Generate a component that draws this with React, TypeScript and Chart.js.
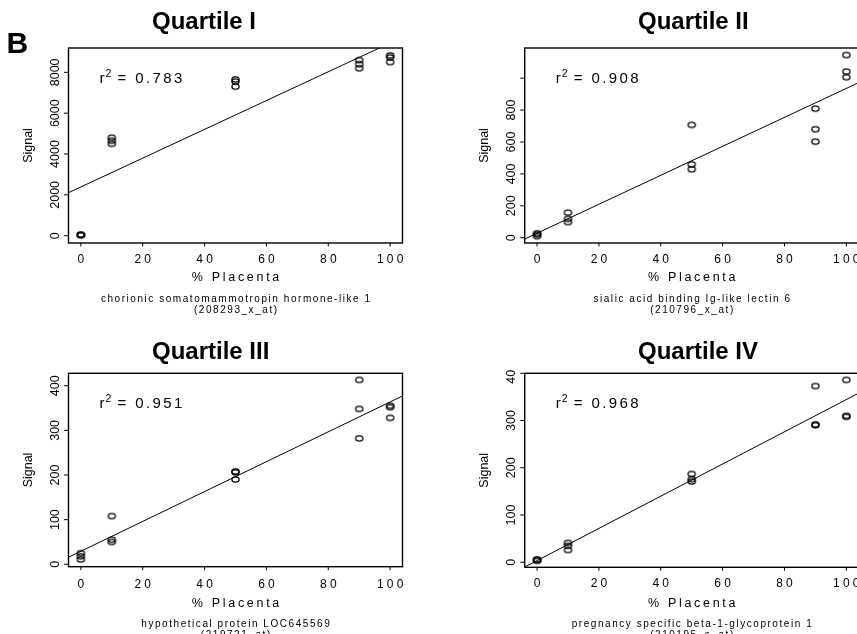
import React, { useEffect, useRef } from 'react';
import Chart from 'chart.js/auto';

const FONT = '"Liberation Sans", Arial, Helvetica, sans-serif';

// ---- data ----
const placentaPct = [0, 0, 0, 10, 10, 10, 50, 50, 50, 90, 90, 90, 100, 100, 100];
const xTicks = [0, 20, 40, 60, 80, 100];
const xTickLabels = ['0', '20', '40', '60', '80', '100'];
const xRange = [-4, 104];
const fitX = [-4, 104];

const q1Signal = [30, 50, 40, 4500, 4650, 4800, 7300, 7550, 7650, 8200, 8400, 8600, 8500, 8730, 8830];
const q1Fit = [2106, 9720];
const q1YTicks = [0, 2000, 4000, 6000, 8000];
const q1YLabels = ['0', '2000', '4000', '6000', '8000'];
const q1YRange = [-357, 9192];

const q2Signal = [10, 20, 28, 98, 118, 157, 429, 460, 707, 602, 680, 809, 1006, 1041, 1145];
const q2Fit = [-8, 972];
const q2YTicks = [0, 200, 400, 600, 800, 1000];
const q2YLabels = ['0', '200', '400', '600', '800', ''];
const q2YRange = [-33, 1189];

const q3Signal = [11, 18, 25, 50, 55, 108, 190, 206, 208, 282, 348, 413, 328, 352, 355];
const q3Fit = [15.8, 377];
const q3YTicks = [0, 100, 200, 300, 400];
const q3YLabels = ['0', '100', '200', '300', '400'];
const q3YRange = [-5.4, 427.8];

const q4Signal = [3, 5, 6, 26, 35, 41, 171, 176, 187, 290, 292, 373, 308, 310, 386];
const q4Fit = [-10, 358];
const q4YTicks = [0, 100, 200, 300, 400];
const q4YLabels = ['0', '100', '200', '300', '400'];
const q4YRange = [-10.6, 400];

const titles = ['Quartile I', 'Quartile II', 'Quartile III', 'Quartile IV'];
const r2Values = ['0.783', '0.908', '0.951', '0.968'];
const geneNames = [
  'chorionic somatomammotropin hormone-like 1',
  'sialic acid binding Ig-like lectin 6',
  'hypothetical protein LOC645569',
  'pregnancy specific beta-1-glycoprotein 1',
];
const probeIds = ['(208293_x_at)', '(210796_x_at)', '(219721_at)', '(210195_s_at)'];
const xAxisTitle = '% Placenta';
const yAxisTitle = 'Signal';
const panelLetter = 'B';

// ---- layout (page coordinates) ----
type Frame = {
  left: number; top: number; width: number; height: number;
  boxL: number; boxT: number; boxR: number; boxB: number;
  titleX: number; titleY: number; xTickY: number; xTitleY: number; cap1: number; cap2: number;
  labelClipTop?: number;
};

const frames: Frame[] = [
  { left: 0, top: 0, width: 428, height: 320, boxL: 68.5, boxT: 48, boxR: 402.5, boxB: 243,
    titleX: 152, titleY: 29.3, xTickY: 263.3, xTitleY: 281, cap1: 301.7, cap2: 312.7 },
  { left: 428, top: 0, width: 440, height: 320, boxL: 524.7, boxT: 48, boxR: 858.7, boxB: 243,
    titleX: 638, titleY: 29.3, xTickY: 263.3, xTitleY: 281, cap1: 301.7, cap2: 312.7 },
  { left: 0, top: 320, width: 428, height: 320, boxL: 68.5, boxT: 373.3, boxR: 402.5, boxB: 566.7,
    titleX: 152, titleY: 359.3, xTickY: 588.3, xTitleY: 606.5, cap1: 627.3, cap2: 638.3 },
  { left: 428, top: 320, width: 440, height: 320, boxL: 524.7, boxT: 373.3, boxR: 858.7, boxB: 567.3,
    titleX: 638, titleY: 359.3, xTickY: 587.3, xTitleY: 606.5, cap1: 627.3, cap2: 638.3, labelClipTop: 369.5 },
];

type Panel = {
  title: string; r2: string; gene: string; probe: string;
  signal: number[]; fit: number[]; yTicks: number[]; yLabels: string[]; yRange: number[];
  frame: Frame; showLetter: boolean;
};

const panels: Panel[] = [
  { title: titles[0], r2: r2Values[0], gene: geneNames[0], probe: probeIds[0], signal: q1Signal, fit: q1Fit,
    yTicks: q1YTicks, yLabels: q1YLabels, yRange: q1YRange, frame: frames[0], showLetter: true },
  { title: titles[1], r2: r2Values[1], gene: geneNames[1], probe: probeIds[1], signal: q2Signal, fit: q2Fit,
    yTicks: q2YTicks, yLabels: q2YLabels, yRange: q2YRange, frame: frames[1], showLetter: false },
  { title: titles[2], r2: r2Values[2], gene: geneNames[2], probe: probeIds[2], signal: q3Signal, fit: q3Fit,
    yTicks: q3YTicks, yLabels: q3YLabels, yRange: q3YRange, frame: frames[2], showLetter: false },
  { title: titles[3], r2: r2Values[3], gene: geneNames[3], probe: probeIds[3], signal: q4Signal, fit: q4Fit,
    yTicks: q4YTicks, yLabels: q4YLabels, yRange: q4YRange, frame: frames[3], showLetter: false },
];

function makeMarker(): HTMLCanvasElement {
  const c = document.createElement('canvas');
  c.width = 11;
  c.height = 9;
  const g = c.getContext('2d')!;
  g.strokeStyle = '#000';
  g.lineWidth = 1.25;
  g.beginPath();
  g.ellipse(5.5, 4.5, 3.6, 2.6, 0, 0, Math.PI * 2);
  g.stroke();
  return c;
}

function drawText(
  ctx: CanvasRenderingContext2D, s: string, x: number, y: number, font: string,
  align: CanvasTextAlign, spacing = 0,
) {
  ctx.font = font;
  (ctx as any).letterSpacing = spacing + 'px';
  ctx.textAlign = align;
  ctx.textBaseline = 'alphabetic';
  const dx = align === 'center' ? spacing / 2 : 0;
  ctx.fillText(s, x + dx, y);
  (ctx as any).letterSpacing = '0px';
}

function PanelChart({ p }: { p: Panel }) {
  const ref = useRef<HTMLCanvasElement>(null);
  const f = p.frame;
  useEffect(() => {
    const canvas = ref.current!;
    const ox = f.left;
    const oy = f.top;
    const marker = makeMarker();
    const decor = {
      id: 'decor',
      afterDraw(chart: any) {
        const ctx: CanvasRenderingContext2D = chart.ctx;
        const xs = chart.scales.x;
        const ys = chart.scales.y;
        const a = chart.chartArea;
        ctx.save();
        ctx.fillStyle = '#000';
        ctx.strokeStyle = '#000';
        // frame
        ctx.lineWidth = 1.4;
        ctx.strokeRect(a.left, a.top, a.right - a.left, a.bottom - a.top);
        // y ticks
        ctx.lineWidth = 1;
        p.yTicks.forEach((v) => {
          const y = ys.getPixelForValue(v);
          ctx.beginPath();
          ctx.moveTo(a.left, y);
          ctx.lineTo(a.left - 4.5, y);
          ctx.stroke();
        });
        // x ticks
        xTicks.forEach((v) => {
          const x = xs.getPixelForValue(v);
          ctx.beginPath();
          ctx.moveTo(x, a.bottom);
          ctx.lineTo(x, a.bottom + 3.5);
          ctx.stroke();
        });
        // y tick labels (rotated)
        ctx.save();
        if (f.labelClipTop !== undefined) {
          ctx.beginPath();
          ctx.rect(0, f.labelClipTop - oy, a.left, 2000);
          ctx.clip();
        }
        p.yTicks.forEach((v, i) => {
          const y = ys.getPixelForValue(v);
          ctx.save();
          ctx.translate(a.left - 10, y);
          ctx.rotate(-Math.PI / 2);
          drawText(ctx, p.yLabels[i], 0, 0, `12.5px ${FONT}`, 'center');
          ctx.restore();
        });
        ctx.restore();
        // y axis title
        ctx.save();
        ctx.translate(a.left - 36.5, (a.top + a.bottom) / 2);
        ctx.rotate(-Math.PI / 2);
        drawText(ctx, yAxisTitle, 0, 0, `12.5px ${FONT}`, 'center');
        ctx.restore();
        // x tick labels
        xTicks.forEach((v, i) => {
          const x = xs.getPixelForValue(v);
          drawText(ctx, xTickLabels[i], x, f.xTickY - oy, `12px ${FONT}`, 'center', 3.2);
        });
        const cx = (a.left + a.right) / 2;
        drawText(ctx, xAxisTitle, cx, f.xTitleY - oy, `12.5px ${FONT}`, 'center', 2.7);
        // caption
        drawText(ctx, p.gene, cx, f.cap1 - oy, `10px ${FONT}`, 'center', 1.55);
        drawText(ctx, p.probe, cx, f.cap2 - oy, `10px ${FONT}`, 'center', 1.55);
        // title
        drawText(ctx, p.title, f.titleX - ox, f.titleY - oy, `bold 24px ${FONT}`, 'left');
        // r^2
        const rx = a.left + 31;
        const ry = a.top + 35;
        drawText(ctx, 'r', rx, ry, `15px ${FONT}`, 'left');
        drawText(ctx, '2', rx + 6, ry - 6.5, `10.5px ${FONT}`, 'left');
        drawText(ctx, '= ' + p.r2, rx + 18, ry, `15px ${FONT}`, 'left', 2.4);
        if (p.showLetter) {
          drawText(ctx, panelLetter, 6.5 - ox, 53.3 - oy, `bold 30px ${FONT}`, 'left');
        }
        ctx.restore();
      },
    };
    const chart = new Chart(canvas, {
      type: 'scatter',
      data: {
        datasets: [
          {
            type: 'scatter',
            data: placentaPct.map((x, i) => ({ x, y: p.signal[i] })),
            pointStyle: marker as any,
            pointRadius: 4,
            borderColor: '#000',
            backgroundColor: 'rgba(0,0,0,0)',
          } as any,
          {
            type: 'line',
            data: fitX.map((x, i) => ({ x, y: p.fit[i] })),
            borderColor: '#000',
            borderWidth: 1,
            pointRadius: 0,
            fill: false,
            tension: 0,
          } as any,
        ],
      },
      options: {
        responsive: false,
        animation: false,
        events: [],
        layout: {
          padding: {
            left: f.boxL - ox,
            top: f.boxT - oy,
            right: ox + f.width - f.boxR,
            bottom: oy + f.height - f.boxB,
          },
        },
        scales: {
          x: { type: 'linear', min: xRange[0], max: xRange[1], display: false },
          y: { type: 'linear', min: p.yRange[0], max: p.yRange[1], display: false },
        },
        plugins: {
          legend: { display: false },
          tooltip: { enabled: false },
          title: { display: false },
        },
      },
      plugins: [decor],
    } as any);
    return () => chart.destroy();
  }, []);
  return (
    <canvas
      ref={ref}
      width={f.width}
      height={f.height}
      style={{ position: 'absolute', left: f.left, top: f.top, width: f.width, height: f.height }}
    />
  );
}

export default function App() {
  return (
    <div
      style={{
        position: 'absolute', left: 0, top: 0, width: 857, height: 634,
        overflow: 'hidden', background: '#fff',
      }}
    >
      {panels.map((p, i) => (
        <PanelChart key={i} p={p} />
      ))}
    </div>
  );
}
